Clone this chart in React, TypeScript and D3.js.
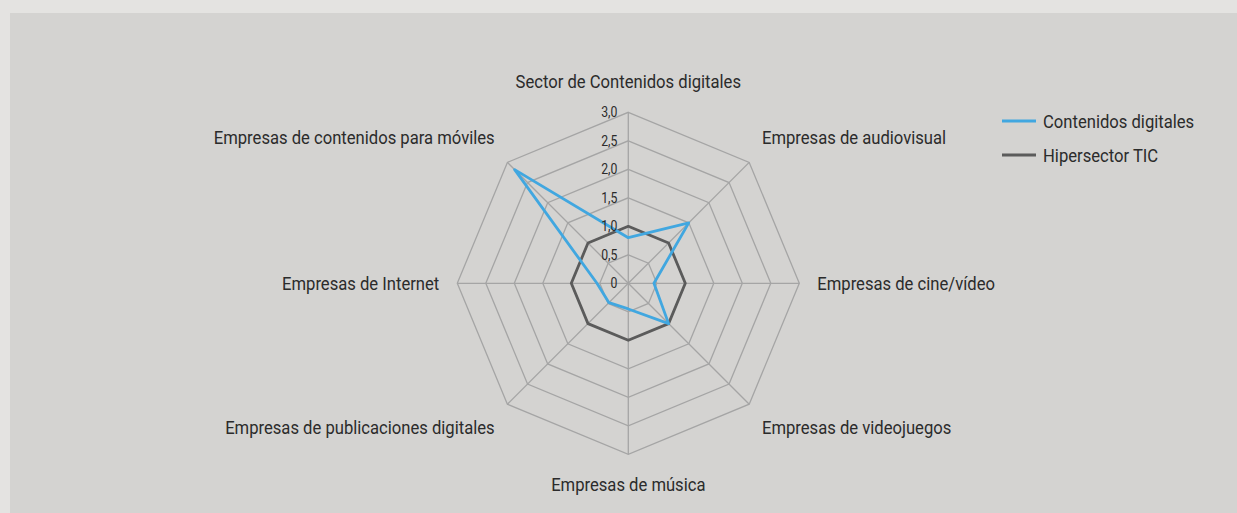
import React from "react";
import * as d3 from "d3";

const categories = [
  "Sector de Contenidos digitales",
  "Empresas de audiovisual",
  "Empresas de cine/vídeo",
  "Empresas de videojuegos",
  "Empresas de música",
  "Empresas de publicaciones digitales",
  "Empresas de Internet",
  "Empresas de contenidos para móviles",
];

const contenidos = [0.8, 1.5, 0.45, 1.0, 0.45, 0.48, 0.55, 2.82];
const hipersector = [1.0, 1.0, 1.0, 1.0, 1.0, 1.0, 1.0, 1.0];

const ticks = [0, 0.5, 1, 1.5, 2, 2.5, 3];
const tickLabels = ["0", "0,5", "1,0", "1,5", "2,0", "2,5", "3,0"];

const series = [
  { name: "Contenidos digitales", values: contenidos, color: "#41a7e0" },
  { name: "Hipersector TIC", values: hipersector, color: "#5b5b5b" },
];

const W = 1237;
const H = 513;
const cx = 628.3;
const cy = 283.3;
const font = "Roboto, 'DejaVu Sans', sans-serif";
const squeeze = 0.875; // the original uses a condensed face

// condensed-looking text: scaled horizontally around its anchor
const Label = ({ x, y, size, anchor = "start", children }: any) => (
  <text
    transform={`translate(${x},${y}) scale(${squeeze},1)`}
    textAnchor={anchor}
    fontSize={size}
    fill="#2b2b2b"
  >
    {children}
  </text>
);

export default function App() {
  const r = d3.scaleLinear().domain([0, 3]).range([0, 171]);
  const angle = (i: number) => (i * 2 * Math.PI) / categories.length;

  const radial = d3
    .lineRadial<number>()
    .angle((_, i) => angle(i))
    .radius((d) => r(d))
    .curve(d3.curveLinearClosed);

  const ring = (v: number) => radial(categories.map(() => v)) || "";

  return (
    <svg
      width={W}
      height={H}
      style={{ position: "fixed", left: 0, top: 0, fontFamily: font }}
    >
      <rect width={W} height={H} fill="#e4e3e1" />
      <rect x={10} y={13} width={W - 10} height={H - 13} fill="#d4d3d1" />

      <g transform={`translate(${cx},${cy})`}>
        {ticks.slice(1).map((t) => (
          <path key={t} d={ring(t)} fill="none" stroke="#a5a5a5" strokeWidth={1.3} />
        ))}
        {categories.map((c, i) => (
          <line
            key={c}
            x1={0}
            y1={0}
            x2={r(3) * Math.sin(angle(i))}
            y2={-r(3) * Math.cos(angle(i))}
            stroke="#a5a5a5"
            strokeWidth={1.3}
          />
        ))}

        {[...series].reverse().map((s) => (
          <path
            key={s.name}
            d={radial(s.values) || ""}
            fill="none"
            stroke={s.color}
            strokeWidth={2.8}
            strokeLinejoin="round"
          />
        ))}

        {ticks.map((t, i) => (
          <Label key={t} x={-11} y={-r(t) + 5} size={14} anchor="end">
            {tickLabels[i]}
          </Label>
        ))}

        {categories.map((c, i) => {
          const a = angle(i);
          const s = Math.sin(a);
          const co = Math.cos(a);
          const off = r(3) + 18;
          const lx = off * s;
          const ly = -off * co;
          const anchor = s > 0.01 ? "start" : s < -0.01 ? "end" : "middle";
          const by = co > 0.01 ? ly - 6 : co < -0.01 ? ly + 17 + (s === 0 || Math.abs(s) < 0.01 ? 2 : 0) : ly + 7;
          return (
            <Label key={c} x={lx} y={by} size={19} anchor={anchor}>
              {c}
            </Label>
          );
        })}
      </g>

      {series.map((s, i) => (
        <g key={s.name} transform={`translate(1002,${121 + i * 34})`}>
          <line x1={0} x2={34} y1={0} y2={0} stroke={s.color} strokeWidth={2.8} />
          <Label x={41} y={7} size={19}>
            {s.name}
          </Label>
        </g>
      ))}
    </svg>
  );
}
